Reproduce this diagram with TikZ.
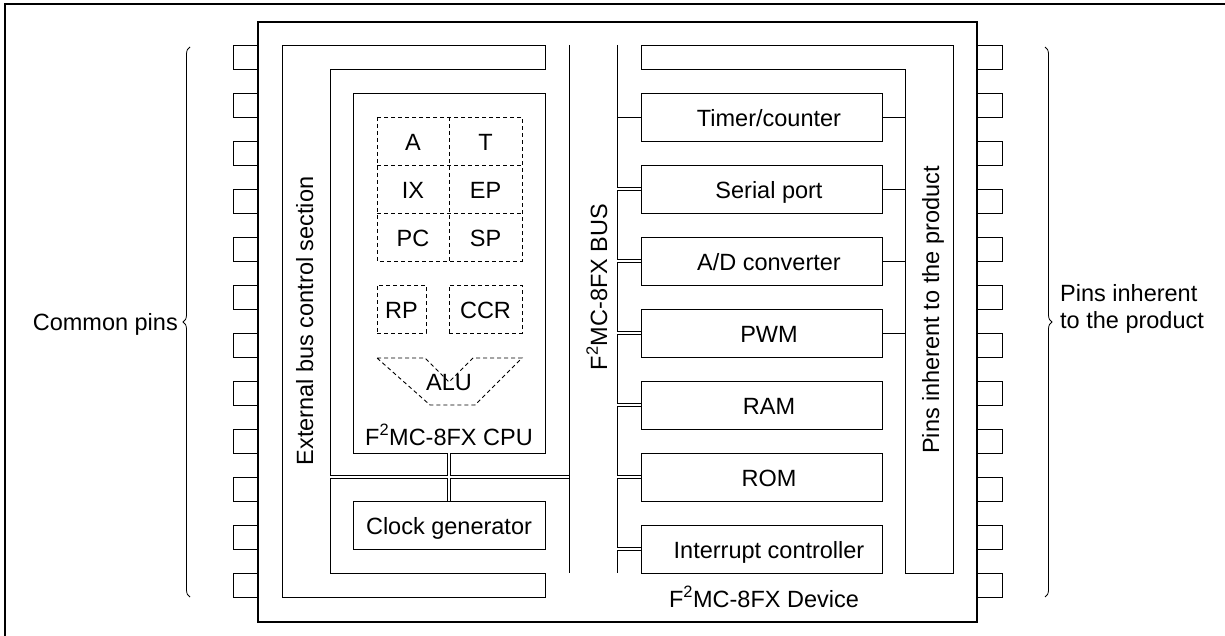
\documentclass[tikz,border=0pt]{standalone}
\usepackage{fontspec}
\setmainfont{Liberation Sans}
\usetikzlibrary{decorations.pathreplacing}
\begin{document}
\begin{tikzpicture}[x=1pt,y=-1pt,
  every node/.style={font=\fontsize{23.5pt}{27pt}\selectfont},
  ln/.style={line width=0.9pt},
  heavy/.style={line width=2pt},
  bx/.style={draw, line width=0.9pt, inner sep=0pt, text height=19pt, text depth=0pt},
  txt/.style={inner sep=0pt, text height=19pt, text depth=0pt},
  dbl/.style={line width=0.9pt, double, double distance=1.8pt},
  dsh/.style={line width=0.9pt, dash pattern=on 4pt off 3pt},
  rlbl/.style={inner sep=0pt, rotate=90, anchor=base},
  periph/.style={bx, minimum width=241pt, minimum height=48pt, execute at begin node={\hspace*{15pt}}},
  brc/.style={line width=0.8pt, decorate, decoration={brace, amplitude=7pt}}
]
\useasboundingbox (0,0) rectangle (1225,636);
\clip (0,0) rectangle (1225,636);
% outer frame (right and bottom lie outside the picture)
\draw[heavy] (4.5,4.5) rectangle (1240,660);

% pins
\foreach \k in {0,...,11}{
  \draw[ln] (233,{45+48*\k}) rectangle (258,{69+48*\k});
  \draw[ln] (976,{45+48*\k}) rectangle (1002,{69+48*\k});
}
% chip body
\draw[heavy] (258,22) rectangle (977,622);

% external bus control section (C shape)
\draw[ln] (545,45) -- (282,45) -- (282,597) -- (545,597) -- (545,573)
  -- (330,573) -- (330,69) -- (545,69) -- cycle;
\node[rlbl] (extlbl) at (313,321) {External bus control section};

% CPU
\node[bx, minimum width=192pt, minimum height=360pt] (cpu) at (449,273) {};
\draw[dsh] (377,117) rectangle (522,261);
\draw[dsh] (377,165) -- (522,165);
\draw[dsh] (377,213) -- (522,213);
\draw[dsh] (449,117) -- (449,261);
\node[txt] (rA) at (413,141) {A};
\node[txt] (rT) at (485.5,141) {T};
\node[txt] (rIX) at (413,189) {IX};
\node[txt] (rEP) at (485.5,189) {EP};
\node[txt] (rPC) at (413,237) {PC};
\node[txt] (rSP) at (485.5,237) {SP};
\node[bx, dsh, minimum width=49pt, minimum height=48pt] (rRP) at (401.5,309) {RP};
\node[bx, dsh, minimum width=73pt, minimum height=48pt] (rCCR) at (485.5,309) {CCR};
\draw[dsh] (377,358) -- (425,358) -- (449,382) -- (473,358) -- (522,358)
  -- (475,405) -- (430,405) -- cycle;
\node[txt] (alu) at (449,381) {ALU};
\node[inner sep=0pt, anchor=base] (cpulbl) at (449,445) {F\textsuperscript{2}MC-8FX CPU};

% clock generator
\node[bx, minimum width=192pt, minimum height=48pt] (clk) at (449,525) {Clock generator};

% bus lines
\coordinate (bL1) at (569,45);
\coordinate (bL2) at (569,573);
\coordinate (bR1) at (617,45);
\coordinate (bR2) at (617,573);
\draw[ln] (bL1) -- (bL2);
\draw[ln] (bR1) -- (bR2);
\node[rlbl] (buslbl) at (607,287) {F\textsuperscript{2}MC-8FX BUS};

% CPU / clock / bus connections (merged double channels)
\coordinate (hL) at (330.45,477);
\coordinate (hR) at (568.55,477);
\draw[line width=3.6pt] (hL) -- (hR) (cpu.south) -- (clk.north);
\draw[white, line width=1.8pt] (hL) -- (hR) (cpu.south) -- (clk.north);

% right-hand structure: pins inherent to the product
\draw[ln] (641,45) -- (953,45) -- (953,573) -- (905,573) -- (905,69) -- (641,69) -- cycle;
\node[rlbl] (pinslbl) at (939,310) {Pins inherent to the product};
\coordinate (pinL) at (905,0);
\coordinate (busR) at (617.45,0);

% peripherals
\node[periph] (tim) at (761.5,117) {Timer/counter};
\node[periph] (ser) at (761.5,189) {Serial port};
\node[periph] (adc) at (761.5,261) {A/D converter};
\node[periph] (pwm) at (761.5,333) {PWM};
\node[periph] (ram) at (761.5,405) {RAM};
\node[periph] (rom) at (761.5,477) {ROM};
\node[periph] (irq) at (761.5,549) {Interrupt controller};

\draw[ln] (tim.west) -- (tim.west -| bR1);
\foreach \n in {ser,adc,pwm,ram,rom,irq}{
  \draw[dbl] (\n.west) -- (\n.west -| busR);
}
\foreach \n in {tim,ser,adc,pwm}{
  \draw[ln] (\n.east) -- (\n.east -| pinL);
}

\node[inner sep=0pt, anchor=base] (devlbl) at (764,607) {F\textsuperscript{2}MC-8FX Device};

% braces and side labels
\draw[brc] (190,597) -- (190,47);
\draw[brc] (1045,47) -- (1045,597);
\node[txt, anchor=east] (common) at (178,321) {Common pins};
\node[inner sep=0pt, anchor=west, align=left] (inherent) at (1060,309) {Pins inherent\\to the product};
\end{tikzpicture}
\end{document}
